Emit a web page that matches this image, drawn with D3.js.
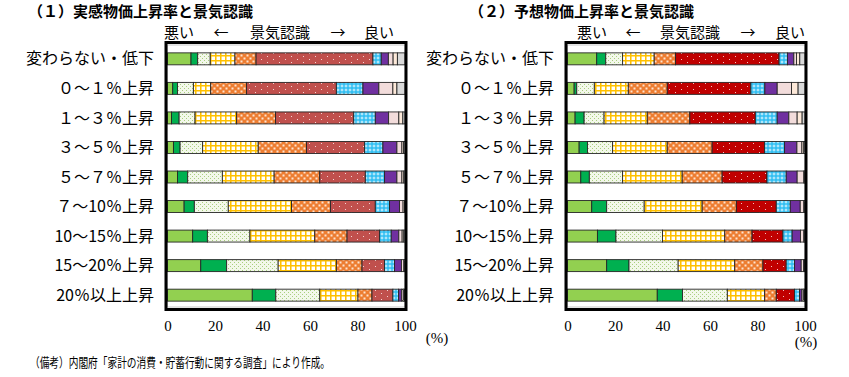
<!DOCTYPE html>
<html>
<head>
<meta charset="utf-8">
<script src="https://cdn.jsdelivr.net/npm/d3@7"></script>
<style>
  body { margin: 0; background: #fff; }
  svg { display: block; }
</style>
</head>
<body>
<svg id="chart" width="849" height="377"></svg>
<script>
// categories (rows, top to bottom)
const categories = ["変わらない・低下", "０～１％上昇", "１～３％上昇", "３～５％上昇", "５～７％上昇",
  "７～10％上昇", "10～15％上昇", "15～20％上昇", "20％以上上昇"];

// 11 levels of business perception, bad -> good (share %)
// (1) perceived inflation
const actualRows = [
  [9.9, 2.8, 5.3, 10.4, 8.9, 49.2, 3.5, 3.0, 2.0, 1.8, 3.2],
  [2.2, 2.0, 6.7, 7.3, 15.1, 37.8, 11.2, 6.7, 5.9, 1.7, 3.4],
  [1.7, 3.2, 6.7, 17.5, 16.4, 32.9, 9.1, 5.6, 4.3, 1.7, 0.9],
  [2.5, 2.8, 9.5, 23.4, 20.3, 24.5, 7.7, 5.9, 2.1, 0.7, 0.6],
  [4.2, 4.3, 14.6, 21.8, 19.2, 19.2, 8.1, 5.2, 2.1, 0.8, 0.5],
  [7.0, 4.3, 14.3, 26.6, 16.4, 18.9, 6.0, 4.2, 1.5, 0.6, 0.2],
  [10.6, 6.2, 17.9, 27.3, 13.6, 13.7, 4.9, 3.2, 1.4, 0.7, 0.5],
  [14.0, 10.9, 21.7, 24.5, 10.8, 9.5, 4.2, 2.9, 1.0, 0.4, 0.1],
  [35.7, 9.9, 18.5, 16.1, 5.9, 8.8, 2.4, 1.3, 0.7, 0.4, 0.3]
];
// (2) expected inflation
const expectedRows = [
  [12.3, 3.8, 7.1, 13.3, 9.0, 43.6, 3.5, 2.7, 1.1, 1.4, 2.2],
  [2.8, 1.1, 7.4, 14.3, 16.4, 35.2, 5.9, 5.2, 6.0, 2.8, 2.9],
  [3.2, 3.8, 8.4, 18.2, 17.9, 27.6, 9.2, 4.9, 3.5, 2.1, 1.2],
  [4.9, 3.5, 10.6, 23.0, 18.9, 22.1, 8.4, 5.2, 2.1, 0.8, 0.5],
  [5.6, 3.6, 14.0, 25.1, 16.8, 18.9, 8.1, 4.6, 2.8, 0.4, 0.1],
  [10.2, 6.3, 15.8, 24.4, 14.4, 16.8, 5.9, 4.2, 1.5, 0.4, 0.1],
  [12.6, 7.8, 19.6, 26.2, 11.5, 13.0, 3.9, 3.5, 1.4, 0.4, 0.1],
  [16.5, 9.4, 20.7, 23.8, 11.9, 9.8, 3.5, 2.8, 1.0, 0.4, 0.2],
  [37.8, 10.6, 18.9, 15.7, 4.9, 7.7, 2.1, 1.0, 0.6, 0.4, 0.3]
];
const xTicks = [0, 20, 40, 60, 80, 100];

const svg = d3.select("#chart");
const defs = svg.append("defs");

// fill patterns
function pat(id, w, h, bg, draw) {
  const p = defs.append("pattern").attr("id", id)
    .attr("patternUnits", "userSpaceOnUse").attr("width", w).attr("height", h);
  p.append("rect").attr("width", w).attr("height", h).attr("fill", bg);
  draw(p);
}
pat("pDot", 4, 4, "#f3f8ea", p => {
  p.append("rect").attr("x", 0).attr("y", 0).attr("width", 1).attr("height", 1).attr("fill", "#a9cf7e");
  p.append("rect").attr("x", 2).attr("y", 2).attr("width", 1).attr("height", 1).attr("fill", "#a9cf7e");
});
pat("pGrid", 5, 5, "#ffffff", p => {
  p.append("path").attr("d", "M0 0.75H5M0.75 0V5").attr("stroke", "#ffc000").attr("stroke-width", 1.6);
});
pat("pCheck", 6, 6, "#ed7d31", p => {
  p.append("rect").attr("x", 0.5).attr("y", 0.5).attr("width", 2).attr("height", 2).attr("fill", "#fde3cf");
  p.append("rect").attr("x", 3.5).attr("y", 3.5).attr("width", 2).attr("height", 2).attr("fill", "#fde3cf");
});
pat("pRed1", 12, 6, "#c0504d", p => {
  p.append("rect").attr("x", 3).attr("y", 2).attr("width", 1).attr("height", 1).attr("fill", "#f4d6d5");
  p.append("rect").attr("x", 9).attr("y", 5).attr("width", 1).attr("height", 1).attr("fill", "#f4d6d5");
});
pat("pRed2", 12, 6, "#c00000", p => {
  p.append("rect").attr("x", 3).attr("y", 2).attr("width", 1).attr("height", 1).attr("fill", "#f3c4c4");
  p.append("rect").attr("x", 9).attr("y", 5).attr("width", 1).attr("height", 1).attr("fill", "#f3c4c4");
});
pat("pBlue", 4, 4, "#33bff2", p => {
  p.append("path").attr("d", "M2 0.6V3.4M0.6 2H3.4").attr("stroke", "#d8f3fd").attr("stroke-width", 1);
});

const fills1 = ["#92d050", "#00b050", "url(#pDot)", "url(#pGrid)", "url(#pCheck)", "url(#pRed1)",
  "url(#pBlue)", "#7030a0", "#f2dcdb", "#fde9d9", "#d9d9d9"];
const fills2 = fills1.slice(); fills2[5] = "url(#pRed2)";

const jp = "'Noto Sans CJK JP', sans-serif";
const serif = "'Liberation Serif', 'DejaVu Serif', serif";

function panel(opt) {
  const x = d3.scaleLinear().domain([0, 100]).range([opt.left + 1.5, opt.left + 239]);
  const y = d3.scaleBand().domain(categories).range([44, 310]).paddingInner(0.595).paddingOuter(0.3);
  const g = svg.append("g");

  // title
  g.append("text").attr("x", opt.titleX).attr("y", 17)
    .attr("font-family", jp).attr("font-weight", "bold").attr("font-size", 15)
    .text(opt.title);

  // 悪い ← 景気認識 → 良い
  ["悪い", "←", "景気認識", "→", "良い"].forEach((t, i) => {
    g.append("text").attr("x", opt.left + opt.sub[i]).attr("y", 38)
      .attr("text-anchor", "middle").attr("font-family", jp).attr("font-size", 15)
      .text(t);
  });

  // plot frame (inner light border + heavy outer border)
  g.append("rect").attr("x", opt.left + 1.5).attr("y", 45).attr("width", 237.5).attr("height", 262)
    .attr("fill", "#fff").attr("stroke", "#c8c8c8").attr("stroke-width", 1);

  // stacked bars
  const rows = g.selectAll("g.row").data(opt.rows).join("g").attr("class", "row");
  rows.each(function (vals, ri) {
    let acc = 0;
    const segs = vals.map((v, i) => { const s = { x0: acc, x1: acc + v, i }; acc += v; return s; });
    d3.select(this).selectAll("rect").data(segs).join("rect")
      .attr("x", d => x(d.x0))
      .attr("y", y(categories[ri]))
      .attr("width", d => Math.max(0, x(d.x1) - x(d.x0)))
      .attr("height", y.bandwidth())
      .attr("fill", d => opt.fills[d.i])
      .attr("stroke", "#262626").attr("stroke-width", 0.9);
  });

  g.append("rect").attr("x", opt.left).attr("y", 42.5).attr("width", 240).attr("height", 267)
    .attr("fill", "none").attr("stroke", "#000").attr("stroke-width", 3);

  // category labels
  g.selectAll("text.cat").data(categories).join("text").attr("class", "cat")
    .attr("x", opt.labelX).attr("y", d => y(d) + y.bandwidth() / 2)
    .attr("dy", "0.35em").attr("text-anchor", "end")
    .attr("font-family", jp).attr("font-size", 16)
    .text(d => d);

  // x axis
  const ax = g.append("g").attr("transform", "translate(0,320)")
    .call(d3.axisBottom(x).tickValues(xTicks).tickSize(0).tickPadding(0).tickFormat(d3.format("d")));
  ax.select(".domain").remove();
  ax.selectAll("text").attr("font-family", serif).attr("font-size", 15).attr("fill", "#000")
    .attr("dy", "0.75em");

  g.append("text").attr("x", opt.pctX).attr("y", opt.pctY)
    .attr("text-anchor", "middle").attr("font-family", serif).attr("font-size", 15)
    .text("(%)");
}

panel({
  left: 166, rows: actualRows, fills: fills1,
  title: "（１）実感物価上昇率と景気認識", titleX: 28,
  sub: [13, 55, 114, 172, 213], labelX: 154, pctX: 437, pctY: 343
});
panel({
  left: 566, rows: expectedRows, fills: fills2,
  title: "（２）予想物価上昇率と景気認識", titleX: 469,
  sub: [26, 67, 124, 182, 224], labelX: 554, pctX: 806, pctY: 347
});

// source note
svg.append("text").attr("x", 30).attr("y", 367)
  .attr("font-family", jp).attr("font-size", 13)
  .attr("textLength", 300).attr("lengthAdjust", "spacingAndGlyphs")
  .text("（備考）内閣府「家計の消費・貯蓄行動に関する調査」により作成。");
</script>
</body>
</html>
